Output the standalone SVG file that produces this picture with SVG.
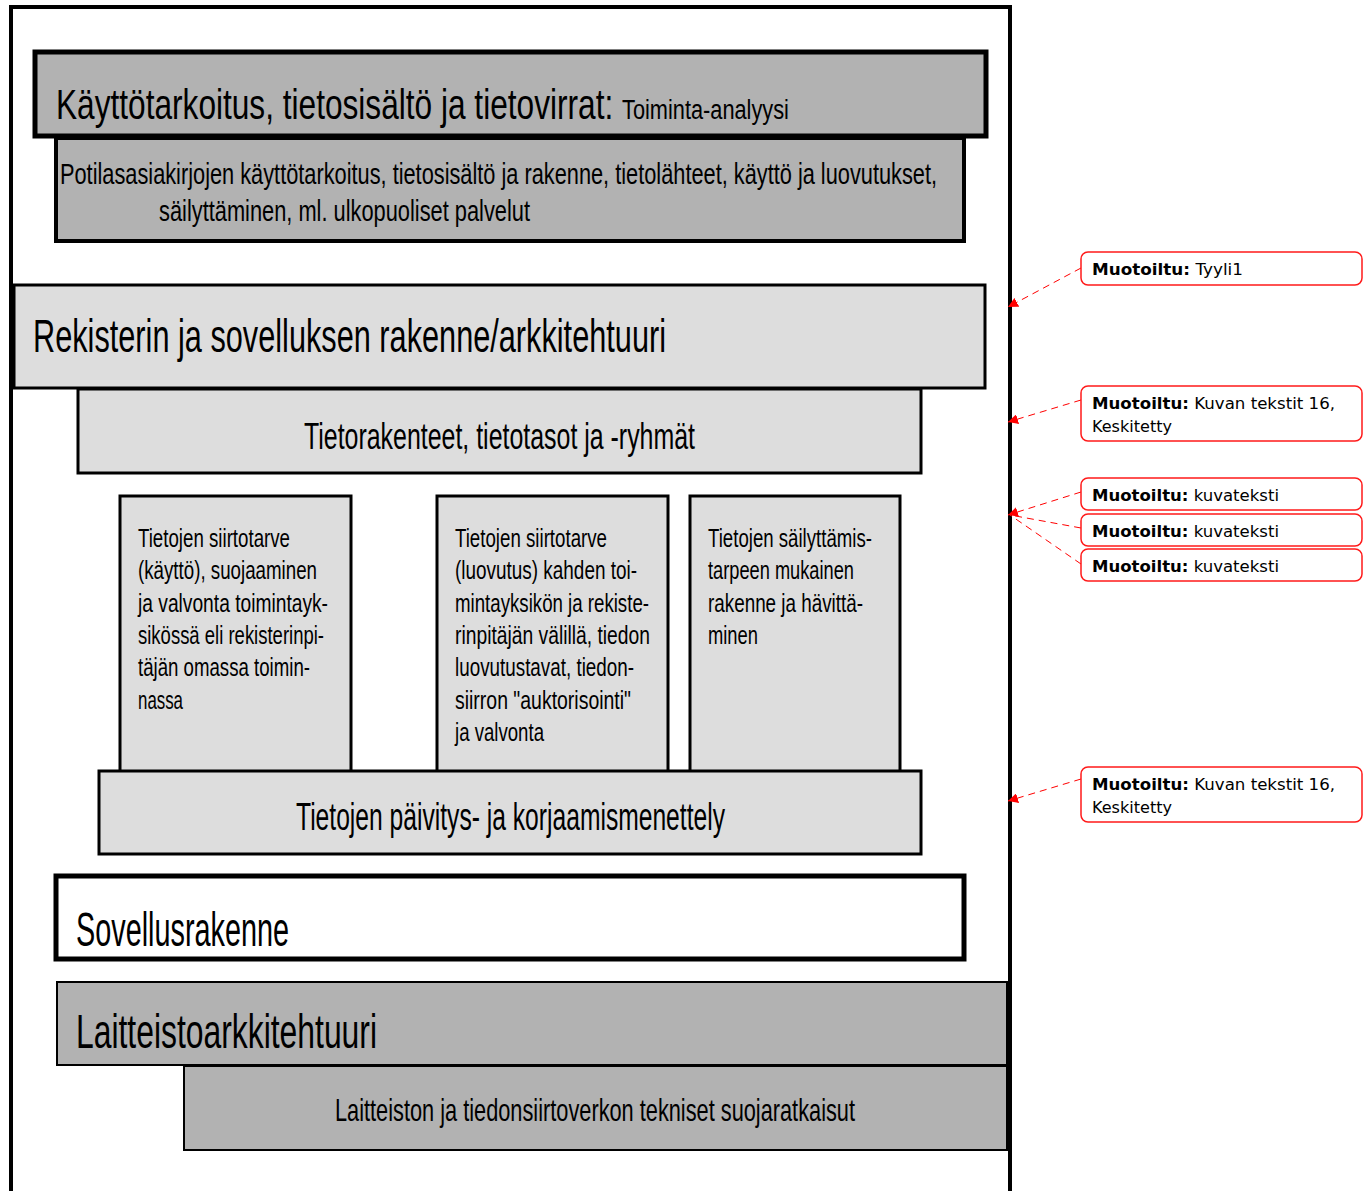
<svg xmlns="http://www.w3.org/2000/svg" width="1366" height="1191" viewBox="0 0 1366 1191">
<style>
.c{font-family:"Liberation Sans Narrow","Liberation Sans",Arial,sans-serif;fill:#000}
.cm{font-family:"DejaVu Sans","Liberation Sans",sans-serif;font-size:15px;fill:#000}
.cm .b{font-weight:bold}
.cb{fill:#fff;stroke:#ff1a1a;stroke-width:1.5}
.ln{stroke:#ff0000;stroke-width:1;stroke-dasharray:7,5;fill:none}
.g1{fill:#b2b2b2;stroke:#000}
.g2{fill:#dddddd;stroke:#000}
</style>
<defs>
<marker id="ar" viewBox="0 0 10 10" refX="10" refY="5" markerWidth="10" markerHeight="10" markerUnits="userSpaceOnUse" orient="auto">
<path d="M0,0 L10,5 L0,10 z" fill="#ff0000"/>
</marker>
</defs>
<rect width="1366" height="1191" fill="#fff"/>
<g id="frame">
<path d="M11,1191 V7 H1010 V1191" fill="none" stroke="#000" stroke-width="4"/>
</g>
<g id="n1">
<rect class="g1" x="35" y="52" width="951" height="84" stroke-width="5"/>
<text class="c" transform="translate(56,119) scale(0.753,1)" x="0" y="0" font-size="42" textLength="740" lengthAdjust="spacingAndGlyphs">Käyttötarkoitus, tietosisältö ja tietovirrat:</text>
<text class="c" transform="translate(622,119) scale(0.78,1)" x="0" y="0" font-size="28" textLength="214" lengthAdjust="spacingAndGlyphs">Toiminta-analyysi</text>
</g>
<g id="n2">
<rect class="g1" x="56" y="138" width="908" height="103" stroke-width="4"/>
<text class="c" x="60" y="184" font-size="30" textLength="877" lengthAdjust="spacingAndGlyphs">Potilasasiakirjojen käyttötarkoitus, tietosisältö ja rakenne, tietolähteet, käyttö ja luovutukset,</text>
<text class="c" x="159" y="221" font-size="30" textLength="371" lengthAdjust="spacingAndGlyphs">säilyttäminen, ml. ulkopuoliset palvelut</text>
</g>
<g id="n3">
<rect class="g2" x="14" y="285" width="971" height="103" stroke-width="3"/>
<text class="c" x="33" y="352" font-size="46" textLength="633" lengthAdjust="spacingAndGlyphs">Rekisterin ja sovelluksen rakenne/arkkitehtuuri</text>
</g>
<g id="n4">
<rect class="g2" x="78" y="389" width="843" height="84" stroke-width="3"/>
<text class="c" x="304" y="449" font-size="37" textLength="391" lengthAdjust="spacingAndGlyphs">Tietorakenteet, tietotasot ja -ryhmät</text>
</g>
<g id="n5">
<rect class="g2" x="120" y="496" width="231" height="276" stroke-width="3"/>
<g class="c" font-size="25">
<text x="138" y="547" textLength="152" lengthAdjust="spacingAndGlyphs">Tietojen siirtotarve</text>
<text x="138" y="579" textLength="179" lengthAdjust="spacingAndGlyphs">(käyttö), suojaaminen</text>
<text x="138" y="612" textLength="190" lengthAdjust="spacingAndGlyphs">ja valvonta toimintayk-</text>
<text x="138" y="644" textLength="186" lengthAdjust="spacingAndGlyphs">sikössä eli rekisterinpi-</text>
<text x="138" y="676" textLength="172" lengthAdjust="spacingAndGlyphs">täjän omassa toimin-</text>
<text x="138" y="709" textLength="45" lengthAdjust="spacingAndGlyphs">nassa</text>
</g>
</g>
<g id="n6">
<rect class="g2" x="437" y="496" width="231" height="276" stroke-width="3"/>
<g class="c" font-size="25">
<text x="455" y="547" textLength="152" lengthAdjust="spacingAndGlyphs">Tietojen siirtotarve</text>
<text x="455" y="579" textLength="182" lengthAdjust="spacingAndGlyphs">(luovutus) kahden toi-</text>
<text x="455" y="612" textLength="194" lengthAdjust="spacingAndGlyphs">mintayksikön ja rekiste-</text>
<text x="455" y="644" textLength="195" lengthAdjust="spacingAndGlyphs">rinpitäjän välillä, tiedon</text>
<text x="455" y="676" textLength="179" lengthAdjust="spacingAndGlyphs">luovutustavat, tiedon-</text>
<text x="455" y="709" textLength="176" lengthAdjust="spacingAndGlyphs">siirron "auktorisointi"</text>
<text x="455" y="741" textLength="89" lengthAdjust="spacingAndGlyphs">ja valvonta</text>
</g>
</g>
<g id="n7">
<rect class="g2" x="690" y="496" width="210" height="276" stroke-width="3"/>
<g class="c" font-size="25">
<text x="708" y="547" textLength="164" lengthAdjust="spacingAndGlyphs">Tietojen säilyttämis-</text>
<text x="708" y="579" textLength="146" lengthAdjust="spacingAndGlyphs">tarpeen mukainen</text>
<text x="708" y="612" textLength="155" lengthAdjust="spacingAndGlyphs">rakenne ja hävittä-</text>
<text x="708" y="644" textLength="50" lengthAdjust="spacingAndGlyphs">minen</text>
</g>
</g>
<g id="n8">
<rect class="g2" x="99" y="771" width="822" height="83" stroke-width="3"/>
<text class="c" x="296" y="830" font-size="38" textLength="429" lengthAdjust="spacingAndGlyphs">Tietojen päivitys- ja korjaamismenettely</text>
</g>
<g id="n9">
<rect x="56" y="876" width="908" height="83" fill="#fff" stroke="#000" stroke-width="5"/>
<text class="c" x="76" y="946" font-size="48" textLength="213" lengthAdjust="spacingAndGlyphs">Sovellusrakenne</text>
</g>
<g id="n10">
<rect class="g1" x="57" y="982" width="950" height="83" stroke-width="2"/>
<text class="c" x="76" y="1048" font-size="48" textLength="301" lengthAdjust="spacingAndGlyphs">Laitteistoarkkitehtuuri</text>
</g>
<g id="n11">
<rect class="g1" x="184" y="1066" width="823" height="84" stroke-width="2"/>
<text class="c" x="335" y="1121" font-size="32" textLength="520" lengthAdjust="spacingAndGlyphs">Laitteiston ja tiedonsiirtoverkon tekniset suojaratkaisut</text>
</g>
<g id="connectors">
<path class="ln" d="M1081,268 L1008,307" marker-end="url(#ar)"/>
<path class="ln" d="M1081,400 L1008,422" marker-end="url(#ar)"/>
<path class="ln" d="M1081,492 L1008,515" marker-end="url(#ar)"/>
<path class="ln" d="M1081,528 L1010,515"/>
<path class="ln" d="M1081,564 L1010,515"/>
<path class="ln" d="M1081,779 L1008,801" marker-end="url(#ar)"/>
</g>
<g id="c1">
<rect class="cb" x="1081" y="252" width="281" height="33" rx="7"/>
<text class="cm" x="1092" y="275" textLength="151" lengthAdjust="spacingAndGlyphs"><tspan class="b">Muotoiltu:</tspan> Tyyli1</text>
</g>
<g id="c2">
<rect class="cb" x="1081" y="386" width="281" height="55" rx="7"/>
<text class="cm" x="1092" y="409" textLength="243" lengthAdjust="spacingAndGlyphs"><tspan class="b">Muotoiltu:</tspan> Kuvan tekstit 16,</text>
<text class="cm" x="1092" y="432" textLength="80" lengthAdjust="spacingAndGlyphs">Keskitetty</text>
</g>
<g id="c3">
<rect class="cb" x="1081" y="478" width="281" height="32" rx="7"/>
<text class="cm" x="1092" y="501" textLength="187" lengthAdjust="spacingAndGlyphs"><tspan class="b">Muotoiltu:</tspan> kuvateksti</text>
</g>
<g id="c4">
<rect class="cb" x="1081" y="514" width="281" height="32" rx="7"/>
<text class="cm" x="1092" y="537" textLength="187" lengthAdjust="spacingAndGlyphs"><tspan class="b">Muotoiltu:</tspan> kuvateksti</text>
</g>
<g id="c5">
<rect class="cb" x="1081" y="549" width="281" height="32" rx="7"/>
<text class="cm" x="1092" y="572" textLength="187" lengthAdjust="spacingAndGlyphs"><tspan class="b">Muotoiltu:</tspan> kuvateksti</text>
</g>
<g id="c6">
<rect class="cb" x="1081" y="767" width="281" height="55" rx="7"/>
<text class="cm" x="1092" y="790" textLength="243" lengthAdjust="spacingAndGlyphs"><tspan class="b">Muotoiltu:</tspan> Kuvan tekstit 16,</text>
<text class="cm" x="1092" y="813" textLength="80" lengthAdjust="spacingAndGlyphs">Keskitetty</text>
</g>
</svg>
